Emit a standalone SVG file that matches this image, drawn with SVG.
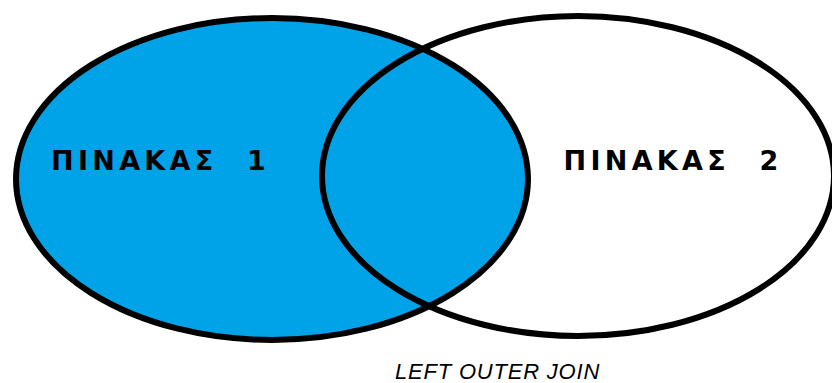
<svg xmlns="http://www.w3.org/2000/svg" width="832" height="383" viewBox="0 0 832 383">
  <style>
    .set { stroke: #000000; stroke-width: 6; }
    .lbl { font-family: "DejaVu Sans", "Noto Sans", sans-serif; font-weight: bold; font-size: 27px; letter-spacing: 4.3px; word-spacing: 1px; fill: #000000; white-space: pre; }
    .cap { font-family: "Liberation Sans", Arial, sans-serif; font-style: italic; font-size: 22px; letter-spacing: 0.8px; fill: #000000; }
  </style>
  <rect x="0" y="0" width="832" height="383" fill="#ffffff"/>
  <g id="table1">
    <ellipse class="set" cx="272" cy="179" rx="256" ry="161" fill="#00A2E8"/>
    <text class="lbl" xml:space="preserve" x="51" y="169.5">ΠΙΝΑΚΑΣ  1</text>
  </g>
  <g id="table2">
    <ellipse class="set" cx="578" cy="176" rx="256" ry="160" fill="none"/>
    <text class="lbl" xml:space="preserve" x="563.5" y="170">ΠΙΝΑΚΑΣ  2</text>
  </g>
  <text class="cap" x="395" y="379">LEFT OUTER JOIN</text>
</svg>
